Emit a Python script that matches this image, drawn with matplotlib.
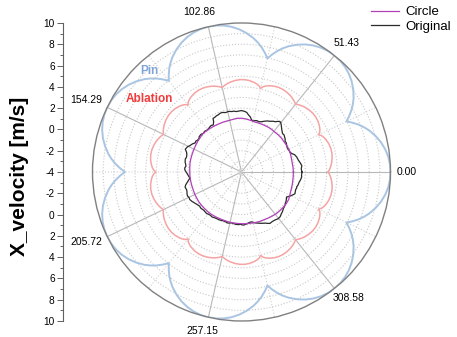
import numpy as np
import matplotlib
matplotlib.use('Agg')
import matplotlib.pyplot as plt
from matplotlib.ticker import FixedLocator

plt.rcParams['font.family'] = ['Liberation Sans', 'DejaVu Sans']

# spoke angles of the polar grid (degrees) and their labels
spoke_deg = [0, 51.43, 102.86, 154.29, 205.72, 257.15, 308.58]
spoke_labels = ['0.00', '51.43', '102.86', '154.29', '205.72', '257.15', '308.58']
sector = 360 / 7

# Pin: one lobe per sector (offset from spoke in degrees -> radius)
pin_offset = [0, 3, 6, 9, 12, 15, 18, 20, 22, 24, 25.71,
              27.43, 29.43, 31.43, 33.43, 36.43, 39.43, 42.43, 45.43, 48.43]
pin_r = [10.0, 9.97, 9.86, 9.67, 9.40, 9.05, 8.62, 8.27, 7.87, 7.40, 6.95,
         7.40, 7.87, 8.27, 8.62, 9.05, 9.40, 9.67, 9.86, 9.97]

# Ablation: two lobes per sector with a small notch between them
abl_offset = [0, 2, 4, 6, 9, 12, 15, 18, 21, 23, 24.5, 25.71, 27, 28.5,
              30.5, 33.5, 36.5, 39.5, 42.5, 45.5, 47.5, 49.5]
abl_r = [4.15, 4.30, 4.42, 4.52, 4.62, 4.68, 4.68, 4.62, 4.50, 4.38, 4.25,
         4.05, 4.25, 4.38, 4.50, 4.62, 4.68, 4.68, 4.62, 4.52, 4.42, 4.30]

# Original (measured) contour
orig_deg = [0, 3, 6, 9, 12, 15, 18, 20, 22, 25, 27, 29, 31, 33, 35, 37, 39, 41,
            43, 46, 48, 50, 52, 54, 56, 58, 61, 63, 66, 68, 71, 73, 75, 77, 79,
            81, 83, 85, 87, 90, 92, 95, 97, 99, 102, 105, 108, 110, 112, 114,
            116, 118, 119, 121, 123, 125, 127, 130, 132, 135, 137, 140, 142,
            144, 146, 148, 150, 153, 155, 158, 160, 162, 165, 167, 170, 172,
            174, 176, 178, 180, 182, 184, 187, 189, 191, 193, 195, 198, 200,
            202, 204, 206, 208, 211, 213, 216, 219, 222, 225, 228, 230, 232,
            234, 237, 240, 243, 246, 249, 252, 254, 256, 258, 261, 263, 266,
            269, 272, 275, 277, 279, 281, 283, 285, 288, 290, 292, 295, 297,
            299, 302, 305, 308, 311, 313, 316, 319, 321, 323, 325, 327, 329,
            331, 333, 335, 337, 338, 340, 342, 344, 345, 347, 350, 352, 355,
            357, 360]
orig_r = [1.68, 1.62, 1.70, 1.58, 1.45, 1.38, 1.25, 1.05, 0.92, 0.90, 0.85,
          0.88, 0.95, 1.02, 1.00, 1.14, 1.22, 1.30, 1.28, 1.46, 1.62, 1.80,
          1.96, 1.88, 1.70, 1.62, 1.45, 1.38, 1.22, 1.10, 0.99, 1.04, 1.00,
          0.92, 0.98, 1.25, 1.40, 1.62, 1.70, 1.77, 1.74, 1.70, 1.76, 1.75,
          1.82, 1.78, 1.88, 1.87, 1.80, 1.78, 1.72, 1.70, 1.40, 1.15, 1.22,
          1.18, 1.12, 1.10, 1.16, 1.11, 1.20, 1.18, 1.08, 1.10, 1.18, 1.14,
          1.30, 1.45, 1.60, 1.70, 1.50, 1.40, 1.35, 1.42, 1.38, 1.30, 1.25,
          1.35, 1.32, 1.20, 1.10, 1.00, 0.88, 1.05, 1.20, 1.38, 1.49, 1.42,
          1.45, 1.52, 1.55, 1.48, 1.51, 1.40, 1.30, 1.18, 1.08, 1.12, 1.05,
          1.08, 1.10, 1.04, 1.01, 1.05, 0.98, 0.96, 0.95, 0.90, 0.90, 0.96,
          0.95, 0.88, 0.89, 0.94, 0.95, 0.92, 0.99, 0.92, 0.85, 0.80, 0.77,
          0.86, 0.95, 1.05, 1.13, 1.20, 1.30, 1.42, 1.52, 1.48, 1.50, 1.58,
          1.55, 1.45, 1.35, 1.22, 1.18, 1.13, 1.05, 1.00, 0.92, 0.84, 1.05,
          1.20, 1.36, 1.42, 1.38, 1.35, 1.40, 1.37, 1.45, 1.50, 1.58, 1.67,
          1.65, 1.68]

# Circle contour
circ_deg = [0, 5, 10, 15, 20, 25, 30, 35, 40, 45, 50, 55, 60, 65, 70, 75, 80,
            85, 90, 95, 100, 105, 110, 115, 120, 125, 130, 135, 140, 145, 150,
            155, 160, 165, 170, 175, 180, 185, 190, 195, 200, 205, 210, 215,
            220, 225, 230, 235, 240, 245, 250, 255, 260, 265, 270, 275, 280,
            285, 290, 295, 300, 305, 310, 315, 320, 325, 330, 335, 340, 345,
            350, 355, 360]
circ_r = [0.87, 0.86, 0.84, 0.86, 0.90, 0.93, 0.92, 0.90, 0.92, 0.91, 0.88,
          0.90, 0.90, 0.88, 0.87, 0.86, 0.92, 1.00, 1.05, 1.06, 1.00, 0.98,
          0.99, 1.00, 1.02, 1.05, 1.08, 1.11, 1.06, 1.02, 0.98, 0.95, 0.93,
          0.92, 0.91, 0.88, 0.86, 0.86, 0.85, 0.84, 0.84, 0.86, 0.87, 0.89,
          0.89, 0.88, 0.89, 0.88, 0.86, 0.84, 0.83, 0.84, 0.85, 0.85, 0.86,
          0.88, 0.89, 0.92, 0.95, 0.96, 1.00, 1.05, 1.10, 1.12, 1.14, 1.15,
          1.13, 1.02, 0.95, 0.92, 0.89, 0.88, 0.87]


def sectors(offsets, values):
    th = np.concatenate([k * sector + np.array(offsets) for k in range(7)] + [[360]])
    r = np.concatenate([values] * 7 + [[values[0]]])
    return np.deg2rad(th), r


fig = plt.figure(figsize=(4.57, 3.37), dpi=100)
ax = fig.add_axes([0.2024, 0.0475, 0.6521, 0.8843], projection='polar')

th, r = sectors(pin_offset, pin_r)
ax.plot(th, r, color='#a9c5e2', lw=1.4)
th, r = sectors(abl_offset, abl_r)
ax.plot(th, r, color='#f5a3a3', lw=1.1)
l_orig, = ax.plot(np.deg2rad(orig_deg), orig_r, color='#2a2a2a', lw=0.9, label='Original')
l_circ, = ax.plot(np.deg2rad(circ_deg), circ_r, color='#b040b8', lw=0.9, label='Circle')

ax.set_ylim(-4, 10)
ax.set_yticks(np.arange(-3, 10))
ax.set_yticklabels([])
ax.yaxis.grid(True, color='#c8c8c8', ls=':', lw=0.8)

ax.set_xticks(np.deg2rad(spoke_deg))
ax.set_xticklabels([])
ax.xaxis.set_minor_locator(FixedLocator(np.deg2rad(np.array(spoke_deg) + sector / 2)))
ax.xaxis.grid(True, which='major', color='#b8b8b8', ls='-', lw=0.8)
ax.xaxis.grid(True, which='minor', color='#d0d0d0', ls=':', lw=0.8)
ax.tick_params(axis='x', which='both', length=3, direction='out', color='#808080')
ax.spines['polar'].set_color('#808080')
ax.spines['polar'].set_linewidth(1.0)

# angle labels around the rim
label_off = [(6, 0, 'left', 'center'), (-1, 12, 'left', 'center'),
             (-9, 15, 'center', 'center'), (-5, 7, 'right', 'center'),
             (-5, -5, 'right', 'center'), (-6, -14, 'center', 'center'),
             (-2, -10, 'left', 'center')]
for deg, lab, (dx, dy, ha, va) in zip(spoke_deg, spoke_labels, label_off):
    ax.annotate(lab, xy=(np.deg2rad(deg), 10), xytext=(dx, dy),
                textcoords='offset pixels', ha=ha, va=va, fontsize=7.5,
                annotation_clip=False)

# linear velocity scale on the left
lax = fig.add_axes([63 / 457, 0.0475, 0.0001, 0.8843])
lax.patch.set_visible(False)
for s in ['top', 'right', 'bottom']:
    lax.spines[s].set_visible(False)
lax.spines['left'].set_color('#606060')
lax.set_xticks([])
lax.set_ylim(-14, 14)
major = np.arange(-14, 15, 2)
lax.set_yticks(major)
lax.set_yticklabels([str(abs(p) - 4) for p in major], fontsize=7.3)
lax.set_yticks(np.arange(-13, 14, 2), minor=True)
lax.tick_params(axis='y', which='major', length=4, width=0.7, color='#606060', pad=2)
lax.tick_params(axis='y', which='minor', length=2.5, width=0.7, color='#606060')

fig.text(20 / 457, 1 - 176 / 337, 'X_velocity [m/s]', rotation=90, ha='center',
         va='center', fontsize=15, fontweight='bold')

fig.text(149 / 457, 1 - 71 / 337, 'Pin', color='#7ea5d3', fontsize=8.5,
         fontweight='bold', ha='center', va='center')
fig.text(149.5 / 457, 1 - 99 / 337, 'Ablation', color='#f03c3c', fontsize=8.5,
         fontweight='bold', ha='center', va='center')

fig.legend(handles=[l_circ, l_orig], loc='upper left',
           bbox_to_anchor=(371 / 457, 1 - 6 / 337), frameon=False, fontsize=9.5,
           handlelength=2.1, handletextpad=0.5, labelspacing=0.2,
           borderpad=0, borderaxespad=0)

fig.savefig('out.png', dpi=100)
